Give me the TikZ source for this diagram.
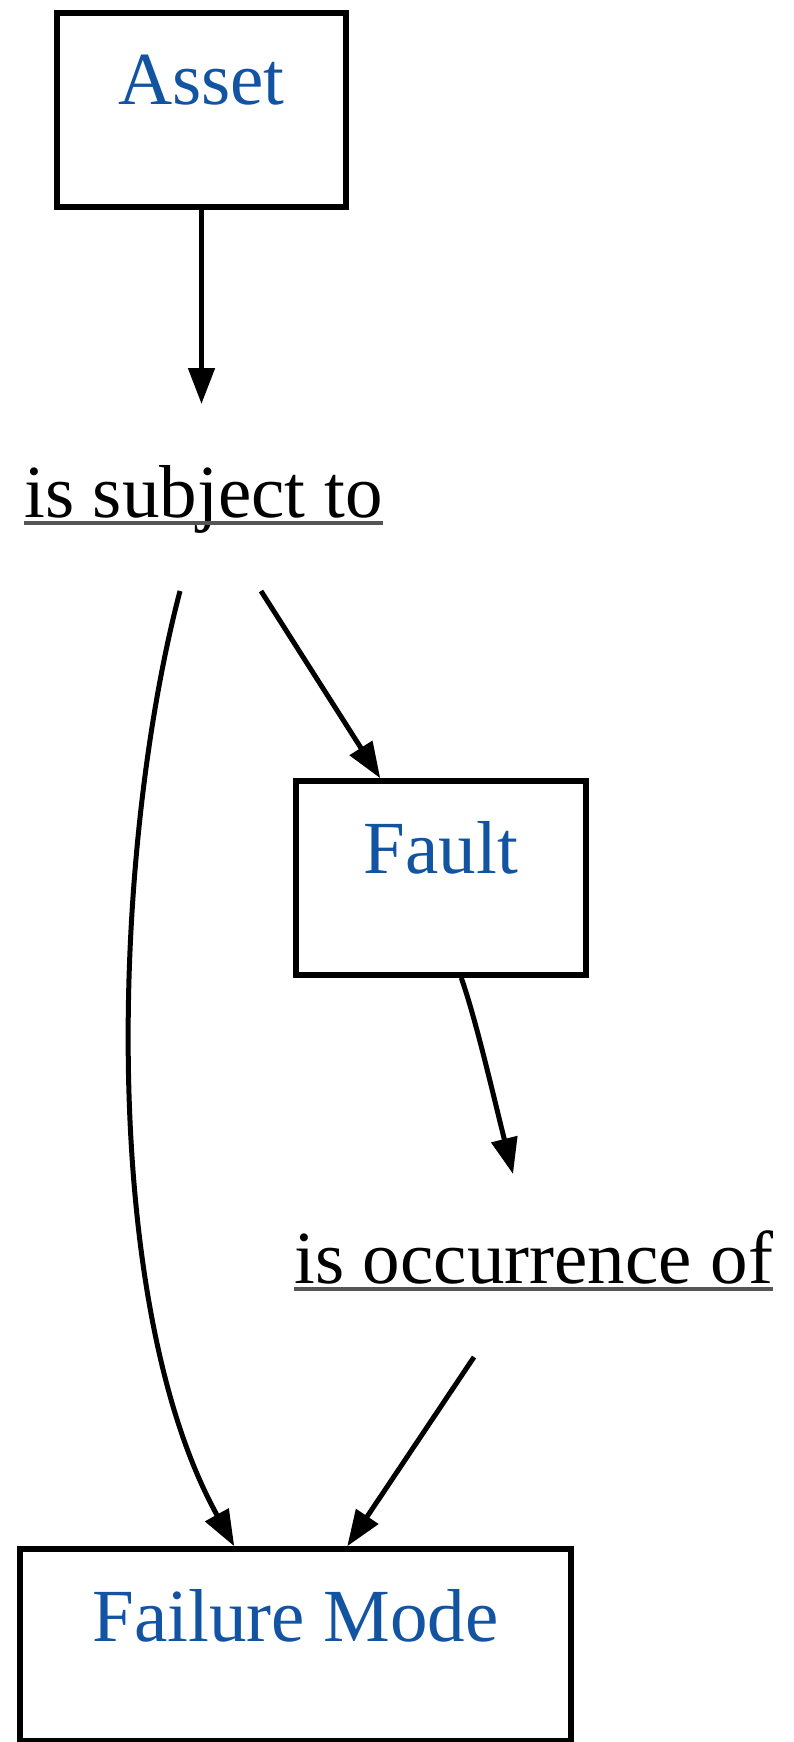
\documentclass[tikz,border=0pt]{standalone}
\usepackage{fontspec}
\setmainfont{Liberation Serif}
\usetikzlibrary{arrows.meta,calc}
\definecolor{termblue}{RGB}{18,84,162}
\definecolor{ulgray}{RGB}{85,85,85}
\begin{document}
\begin{tikzpicture}[x=1pt,y=-1pt,
  box/.style={draw,line width=5.5pt,inner xsep=0pt,inner ysep=0pt,
    font=\fontsize{75}{80}\selectfont,text=termblue,
    text height=92pt,text depth=102pt},
  rel/.style={inner sep=0pt,anchor=base west,font=\fontsize{75}{80}\selectfont},
  uline/.style={ulgray,line width=4pt},
  conn/.style={line width=5pt,-{Triangle[length=36pt,width=26pt]}}]
  \useasboundingbox (0,0) rectangle (794,1742);

  % concept boxes
  \node[box,minimum width=289pt] (asset) at (201.5,110) {Asset};
  \node[box,minimum width=290pt] (fault) at (441,878) {Fault};
  \node[box,minimum width=551pt,text depth=100pt] (fmode) at (295.5,1645) {Failure Mode};

  % relation labels
  \node[rel] (subj) at (24,517) {is subject to};
  \node[rel] (occ) at (294,1283) {is occurrence of};
  \draw[uline] ([yshift=-6pt]subj.base west) -- ([yshift=-6pt]subj.base east);
  \draw[uline] ([yshift=-6pt]occ.base west) -- ([yshift=-6pt]occ.base east);

  % connector end points around the labels
  \coordinate (subjin) at (201.5,404);
  \coordinate (subjoutA) at (180,591);
  \coordinate (subjoutB) at (261,591);
  \coordinate (occin) at (513,1174);
  \coordinate (occout) at (474,1357);

  % connectors
  \draw[conn] (asset.south) -- (subjin);
  \draw[conn] (subjoutB) -- ($(fault.north west)+(87,0)$);
  \draw[conn] (subjoutA) .. controls (112,850) and (98,1300) .. ($(fmode.north west)+(217,0)$);
  \draw[conn] ($(fault.south west)+(168,0)$) .. controls (476,1020) and (492,1090) .. (occin);
  \draw[conn] (occout) -- ($(fmode.north west)+(330,0)$);
\end{tikzpicture}
\end{document}
